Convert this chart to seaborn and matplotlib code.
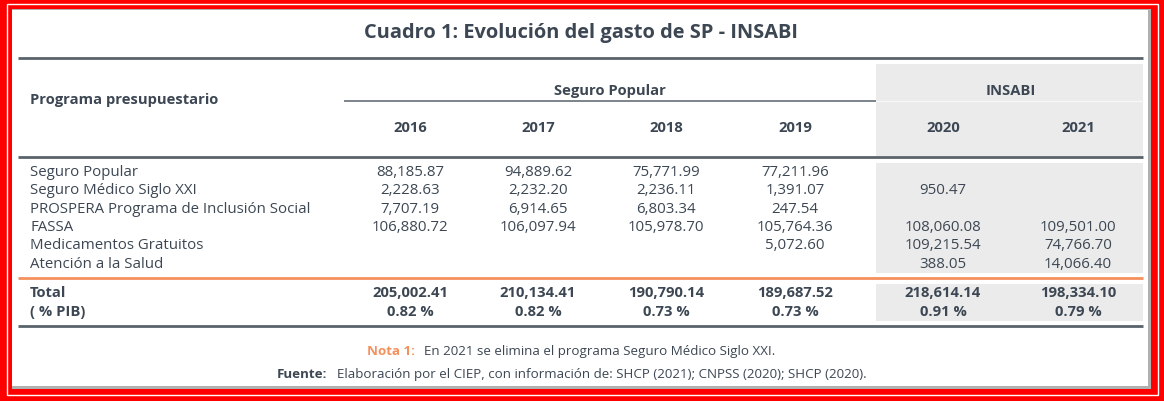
import matplotlib
matplotlib.use("Agg")
import matplotlib.pyplot as plt
import matplotlib.patches as mpatches
import seaborn as sns

# ---------------- data ----------------
title = "Cuadro 1: Evolución del gasto de SP - INSABI"
programs = ["Seguro Popular", "Seguro Médico Siglo XXI",
            "PROSPERA Programa de Inclusión Social", "FASSA",
            "Medicamentos Gratuitos", "Atención a la Salud"]
years = ["2016", "2017", "2018", "2019", "2020", "2021"]
groups = ["Seguro Popular", "INSABI"]
v2016 = [88185.87, 2228.63, 7707.19, 106880.72, None, None]
v2017 = [94889.62, 2232.20, 6914.65, 106097.94, None, None]
v2018 = [75771.99, 2236.11, 6803.34, 105978.70, None, None]
v2019 = [77211.96, 1391.07, 247.54, 105764.36, 5072.60, None]
v2020 = [None, 950.47, None, 108060.08, 109215.54, 388.05]
v2021 = [None, None, None, 109501.00, 74766.70, 14066.40]
totals = [205002.41, 210134.41, 190790.14, 189687.52, 218614.14, 198334.10]
pib = [0.82, 0.82, 0.73, 0.73, 0.91, 0.79]
nota = "En 2021 se elimina el programa Seguro Médico Siglo XXI."
fuente = "Elaboración por el CIEP, con información de: SHCP (2021); CNPSS (2020); SHCP (2020)."
values = [v2016, v2017, v2018, v2019, v2020, v2021]

# ---------------- style ----------------
sns.set_theme(style="white")
plt.rcParams['font.family'] = ['Open Sans', 'DejaVu Sans']
TXT = "#3c4753"
LINE = "#5a626b"
GRAY = "#ebebeb"
ORANGE = "#f4915e"
RED = "#ff0000"

fig = plt.figure(figsize=(11.64, 4.02), dpi=100)
fig.patch.set_facecolor(RED)
ax = fig.add_axes([0, 0, 1, 1])
ax.set_xlim(0, 1164)
ax.set_ylim(402, 0)
ax.set_axis_off()

# frame
ax.add_patch(mpatches.Rectangle((6.5, 4.5), 1151, 391, facecolor="none", edgecolor="white", lw=1.0))
ax.add_patch(mpatches.Rectangle((11.5, 10), 1139, 380, facecolor="#b0b0b0", edgecolor="none"))
ax.add_patch(mpatches.Rectangle((12, 11), 1136, 376, facecolor="white", edgecolor="none"))

FS = 10.85
FSB = 10.6
FSN = 9.6
col_x = [410, 538, 666, 795, 943, 1078]
row_y = [172.5, 191, 209.5, 228, 246, 264.5]
x0, x1 = 18, 1143
ins_x0 = 876

# gray INSABI bands
for (ya, yb) in [(65, 157), (164, 274), (285, 322)]:
    ax.add_patch(mpatches.Rectangle((ins_x0, ya), x1 - ins_x0, yb - ya, facecolor=GRAY, edgecolor="none"))
ax.plot([ins_x0, x1], [102, 102], color="#f7f7f7", lw=1.0)

# title
ax.text(581, 33, title, ha="center", va="center", fontsize=14.4, fontweight="bold", color=TXT)

# horizontal rules
for y in [59, 158, 327]:
    ax.plot([x0, x1], [y, y], color=LINE, lw=2.0, solid_capstyle="butt")
ax.plot([x0, x1], [279, 279], color=ORANGE, lw=2.0, solid_capstyle="butt")
ax.plot([344, ins_x0], [102, 102], color=LINE, lw=1.1, solid_capstyle="butt")

# header
ax.text(30, 100, "Programa presupuestario", ha="left", va="center", fontsize=FSB, fontweight="bold", color=TXT)
ax.text(610, 91, groups[0], ha="center", va="center", fontsize=FSB, fontweight="bold", color=TXT)
ax.text(1011, 91, groups[1], ha="center", va="center", fontsize=FSB, fontweight="bold", color=TXT)
for x, yr in zip(col_x, years):
    ax.text(x, 128, yr, ha="center", va="center", fontsize=FSB, fontweight="bold", color=TXT)

# body
for y, prog in zip(row_y, programs):
    ax.text(30, y, prog, ha="left", va="center", fontsize=FS, color=TXT)
for x, col in zip(col_x, values):
    for y, v in zip(row_y, col):
        if v is not None:
            ax.text(x, y, f"{v:,.2f}", ha="center", va="center", fontsize=FS, color=TXT)

# totals
ax.text(30, 293, "Total", ha="left", va="center", fontsize=FSB, fontweight="bold", color=TXT)
ax.text(30, 312, "( % PIB)", ha="left", va="center", fontsize=FSB, fontweight="bold", color=TXT)
for x, t, p in zip(col_x, totals, pib):
    ax.text(x, 293, f"{t:,.2f}", ha="center", va="center", fontsize=FSB, fontweight="bold", color=TXT)
    ax.text(x, 312, f"{p:.2f} %", ha="center", va="center", fontsize=FSB, fontweight="bold", color=TXT)

# notes
ax.text(415, 352, "Nota 1:", ha="right", va="center", fontsize=FSN, fontweight="bold", color=ORANGE)
ax.text(424, 352, nota, ha="left", va="center", fontsize=FSN, color=TXT)
ax.text(327, 375, "Fuente:", ha="right", va="center", fontsize=FSN, fontweight="bold", color=TXT)
ax.text(337, 375, fuente, ha="left", va="center", fontsize=FSN, color=TXT)

fig.savefig("out.png", dpi=100, facecolor=fig.get_facecolor())
